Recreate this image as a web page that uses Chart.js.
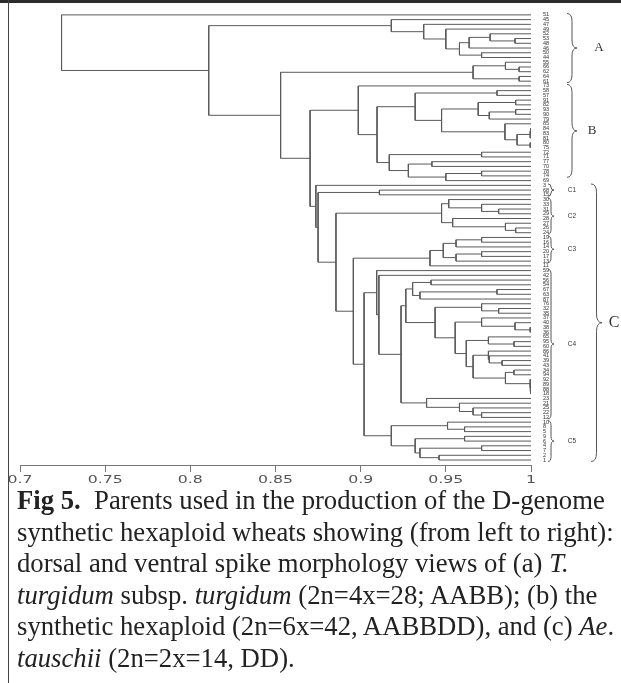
<!DOCTYPE html>
<html>
<head>
<meta charset="utf-8">
<title>Fig 5</title>
<script src="https://cdn.jsdelivr.net/npm/chart.js@4.4.1/dist/chart.umd.min.js"></script>
<style>
    html, body { margin: 0; padding: 0; background: #fff; }
    body { width: 621px; height: 683px; position: relative; overflow: hidden; }
    #topRule { position: absolute; left: 0; top: 0; width: 621px; height: 3px; background: #2b2b2b; }
    #leftRule { position: absolute; left: 8px; top: 0; width: 1px; height: 683px; background: #444; }
    #tree { position: absolute; left: 0; top: 0; }
    .caption {
        position: absolute; left: 17px; top: 485px;
        font-family: "Liberation Serif", "Times New Roman", serif;
        font-size: 26.7px; line-height: 31.6px; color: #222; white-space: nowrap;
    }
</style>
</head>
<body>
<div id="topRule"></div>
<div id="leftRule"></div>
<canvas id="tree" width="621" height="495"></canvas>
<div class="caption">
    <div><b>Fig 5.</b>&nbsp; Parents used in the production of the D-genome</div>
    <div>synthetic hexaploid wheats showing (from left to right):</div>
    <div>dorsal and ventral spike morphology views of (a) <i>T.</i></div>
    <div><i>turgidum</i> subsp. <i>turgidum</i> (2n=4x=28; AABB); (b) the</div>
    <div>synthetic hexaploid (2n=6x=42, AABBDD), and (c) <i>Ae</i>.</div>
    <div><i>tauschii</i> (2n=2x=14, DD).</div>
</div>
<script>
// Node = [similarity, upper branch, lower branch]; a plain number is a genotype
const clusterA1 = [0.918, 45, [0.937, 47, [0.950, 49, [0.958,
    [0.9637, [0.976, 52, [0.9906, 53, 48]], 46],
    [0.971, 50, 44]]]]];
const clusterA2 = [0.966, [0.985, 55, [0.993, 66, 62]], [0.993, 64, 61]];

const clusterB = [0.8986, 73, [0.9096,
    [0.932, [0.980, 58, 57],
        [0.9475,
            [0.969, [0.991, 91, 82], [0.9755, [0.991, 93, 90], 79]],
            [0.9847, 85, [0.9918, [0.9995, [0.9997, 84, 83], 81], [0.9995, 80, 75]]]]],
    [0.9168, [0.971, 72, 71], [0.928, [0.9418, 77, 70], [0.950, [0.971, 78, 74], 69]]]]];

const clusterC1 = [0.911, 68, 15];
const clusterC2 = [0.9475,
    [0.9517, 30, [0.971, 33, [0.981, 31, 29]]],
    [0.954, 28, [0.985, 27, [0.991, 26, 24]]]];
const clusterC3 = [0.9407,
    [0.9485, [0.956, [0.971, 19, 16], 14], [0.956, [0.971, 20, 17], 13]],
    11];
const clusterC4 = [0.9094, 59, [0.9107, 42, [0.9237,
    [0.9265,
        [0.9305, [0.9413, 56, 54], [0.9348, [0.980, 67, 63], 87]],
        [0.9437, [0.971, 76, [0.981, 32, 35]],
            [0.9555, [0.971, 37, [0.9906, 40, [0.9995, 38, 36]]],
                [0.962, [0.975, 65, [0.990, 95, 60]],
                    [0.966, [0.975, 86, [0.9755, 41, [0.983, 39, 43]]],
                        [0.985, [0.990, 34, 94], [0.9995, 92, [0.9996, 89, [0.9997, 88, 18]]]]]]]]],
    [0.9387, 23, [0.958, 21, [0.966, 25, [0.971, 22, 12]]]]]]];
const clusterC5 = [0.918,
    [0.951, 10, [0.961, 8, 5]],
    [0.932, [0.961, 9, 6], [0.9348, [0.971, 4, 7], [0.946, 2, 1]]]];

// upper joins
const clusterC = [0.8737, 3, [0.875, clusterC1, [0.8855, clusterC2,
    [0.8957, clusterC3, [0.902, clusterC4, clusterC5]]]]];
const tree = [0.7244, 51, [0.8108, clusterA1, [0.853, clusterA2, [0.8703, clusterB, clusterC]]]];

// Brackets on the right: name, first and last genotype
const groupNames = ['A', 'B', 'C1', 'C2', 'C3', 'C4', 'C5', 'C'];
const groupFirst = [51, 73, 3, 30, 19, 59, 10, 3];
const groupLast = [61, 74, 15, 24, 13, 12, 1, 1];

const simTicks = [0.7, 0.75, 0.8, 0.85, 0.9, 0.95, 1];

// leaf order and elbow links, parent sits halfway between its children
const leafOrder = [];
const links = [];
function layout(node) {
    if (typeof node === 'number') {
        leafOrder.push(node);
        return { x: 1, y: leafOrder.length - 1 };
    }
    const [sim, upper, lower] = node;
    const a = layout(upper);
    const b = layout(lower);
    links.push([{ x: a.x, y: a.y }, { x: sim, y: a.y }, { x: sim, y: b.y }, { x: b.x, y: b.y }]);
    return { x: sim, y: (a.y + b.y) / 2 };
}
layout(tree);

const braceStyle = {
    A:  { x: 567, w: 10, lx: 599, font: '13px "Liberation Serif"' },
    B:  { x: 567, w: 10, lx: 592, font: '13px "Liberation Serif"' },
    C1: { x: 548, w: 6, lx: 572, font: '6.5px "Liberation Sans"' },
    C2: { x: 548, w: 6, lx: 572, font: '6.5px "Liberation Sans"' },
    C3: { x: 548, w: 6, lx: 572, font: '6.5px "Liberation Sans"' },
    C4: { x: 548, w: 6, lx: 572, font: '6.5px "Liberation Sans"' },
    C5: { x: 548, w: 6, lx: 572, font: '6.5px "Liberation Sans"' },
    C:  { x: 591, w: 11, lx: 614, font: '16px "Liberation Serif"' }
};

function drawBrace(ctx, x, y1, y2, w) {
    const mid = (y1 + y2) / 2;
    const r = Math.min(w * 0.8, (y2 - y1) / 4);
    const xm = x + w / 2;
    ctx.beginPath();
    ctx.moveTo(x, y1);
    ctx.quadraticCurveTo(xm, y1, xm, y1 + r);
    ctx.lineTo(xm, mid - r);
    ctx.quadraticCurveTo(xm, mid, x + w, mid);
    ctx.quadraticCurveTo(xm, mid, xm, mid + r);
    ctx.lineTo(xm, y2 - r);
    ctx.quadraticCurveTo(xm, y2, x, y2);
    ctx.stroke();
}

// brackets, group names and the wide axis numbers
const decorations = {
    id: 'decorations',
    afterDraw(chart) {
        const ctx = chart.ctx;
        const xs = chart.scales.x;
        const ys = chart.scales.y;
        ctx.save();
        ctx.strokeStyle = '#555';
        ctx.lineWidth = 1;
        ctx.fillStyle = '#333';
        ctx.textAlign = 'center';
        ctx.textBaseline = 'middle';
        groupNames.forEach((name, i) => {
            const st = braceStyle[name];
            const y1 = ys.getPixelForValue(leafOrder.indexOf(groupFirst[i]) - 0.3);
            const y2 = ys.getPixelForValue(leafOrder.indexOf(groupLast[i]) + 0.3);
            drawBrace(ctx, st.x, y1, y2, st.w);
            ctx.font = st.font;
            ctx.fillText(name, st.lx, (y1 + y2) / 2);
        });

        ctx.fillStyle = '#555';
        ctx.font = '11px "DejaVu Sans"';
        simTicks.forEach(v => {
            ctx.save();
            ctx.translate(xs.getPixelForValue(v), xs.top + 15);
            ctx.scale(1.43, 1);
            ctx.fillText(String(v), 0, 0);
            ctx.restore();
        });
        ctx.restore();
    }
};

new Chart(document.getElementById('tree'), {
    type: 'line',
    data: {
        datasets: links.map(pts => ({
            data: pts,
            borderColor: '#5a5a5a',
            borderWidth: 1,
            pointRadius: 0,
            fill: false,
            tension: 0
        }))
    },
    options: {
        responsive: false,
        animation: false,
        events: [],
        layout: { padding: { left: 20, top: 4, right: 0, bottom: 0 } },
        plugins: {
            legend: { display: false },
            tooltip: { enabled: false }
        },
        scales: {
            x: {
                type: 'linear',
                position: 'bottom',
                min: 0.7,
                max: 1,
                ticks: {
                    stepSize: 0.05,
                    autoSkip: false,
                    maxRotation: 0,
                    color: 'rgba(0,0,0,0)',  // numbers are drawn by the plugin
                    font: { family: 'DejaVu Sans', size: 11 },
                    callback: v => String(+v.toFixed(2))
                },
                grid: { drawOnChartArea: false, drawTicks: true, tickLength: 7, color: '#777' },
                border: { display: true, color: '#777', width: 1 },
                afterFit: s => { s.height = 30; }
            },
            y: {
                type: 'linear',
                position: 'right',
                reverse: true,
                min: -1.6,
                max: 95.05,
                ticks: {
                    stepSize: 1,
                    autoSkip: false,
                    padding: 4,
                    color: '#333',
                    font: { family: 'Liberation Sans', size: 5.5 },
                    callback: v => {
                        const i = Math.round(v);
                        if (Math.abs(v - i) > 1e-6 || i < 0 || i >= leafOrder.length) return '';
                        return String(leafOrder[i]);
                    }
                },
                grid: { display: false },
                border: { display: false },
                afterFit: s => { s.width = 90; }
            }
        }
    },
    plugins: [decorations]
});
</script>
</body>
</html>
